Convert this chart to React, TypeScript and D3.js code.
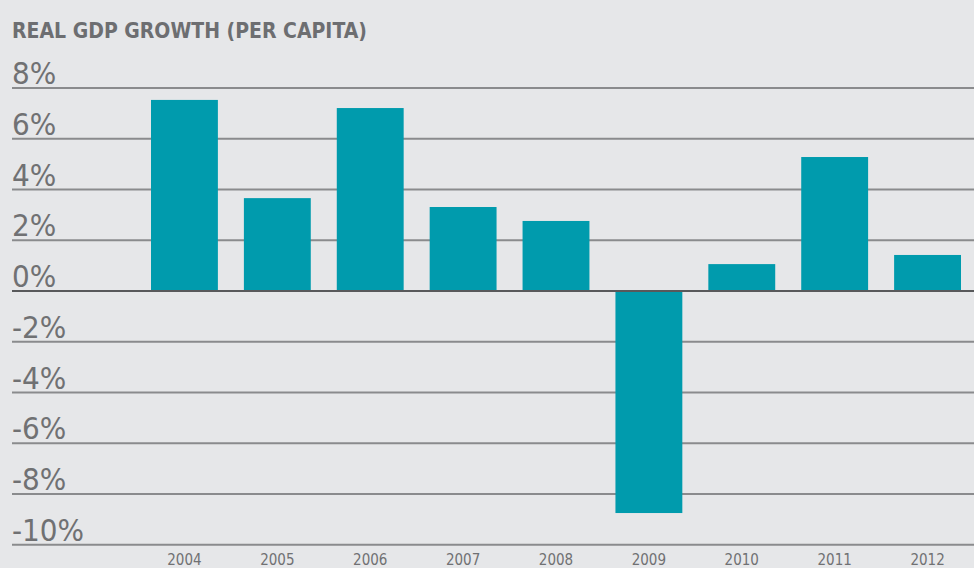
import { useEffect, useRef } from 'react';
import * as d3 from 'd3';

const years = ['2004', '2005', '2006', '2007', '2008', '2009', '2010', '2011', '2012'];
const growth = [7.53, 3.66, 7.21, 3.31, 2.76, -8.75, 1.06, 5.28, 1.42];
const yTicks = [8, 6, 4, 2, 0, -2, -4, -6, -8, -10];
const title = 'REAL GDP GROWTH (PER CAPITA)';

const App = () => {
    const svgRef = useRef<SVGSVGElement>(null);

    useEffect(() => {
        const width = 974;
        const height = 568;
        const font = '"Liberation Sans Narrow", "DejaVu Sans Condensed", "Roboto", sans-serif';

        const svg = d3.select(svgRef.current);
        svg.selectAll('*').remove();
        svg.attr('width', width).attr('height', height);

        svg.append('rect').attr('width', width).attr('height', height).attr('fill', '#e6e7e9');

        const x = d3.scaleBand<string>()
            .domain(years)
            .range([138, 974])
            .paddingInner(0.28)
            .paddingOuter(0.14);

        const y = d3.scaleLinear().domain([-10, 8]).range([544.75, 88]);

        // title
        svg.append('text')
            .attr('x', 12)
            .attr('y', 38)
            .attr('fill', '#6d6e71')
            .attr('font-family', font)
            .attr('font-size', 21)
            .attr('font-weight', 'bold')
            .text(title);

        // gridlines + tick labels
        const grid = svg.append('g');
        grid.selectAll('line')
            .data(yTicks)
            .enter()
            .append('line')
            .attr('x1', 12)
            .attr('x2', width)
            .attr('y1', d => y(d))
            .attr('y2', d => y(d))
            .attr('stroke', '#8a8b8d')
            .attr('stroke-width', 2);

        grid.selectAll('text')
            .data(yTicks)
            .enter()
            .append('text')
            .attr('x', 12)
            .attr('y', d => y(d) - 4)
            .attr('fill', '#707173')
            .attr('font-family', font)
            .attr('font-size', 31)
            .text(d => `${d}%`);

        // bars
        svg.append('g')
            .selectAll('rect')
            .data(years.map((yr, i) => ({ yr, v: growth[i] })))
            .enter()
            .append('rect')
            .attr('x', d => x(d.yr) ?? 0)
            .attr('width', x.bandwidth())
            .attr('y', d => y(Math.max(0, d.v)))
            .attr('height', d => Math.abs(y(d.v) - y(0)))
            .attr('fill', '#009bad');

        // zero line on top
        svg.append('line')
            .attr('x1', 12)
            .attr('x2', width)
            .attr('y1', y(0))
            .attr('y2', y(0))
            .attr('stroke', '#58595b')
            .attr('stroke-width', 2);

        // year labels
        svg.append('g')
            .selectAll('text')
            .data(years)
            .enter()
            .append('text')
            .attr('x', d => (x(d) ?? 0) + x.bandwidth() / 2)
            .attr('y', 565)
            .attr('text-anchor', 'middle')
            .attr('fill', '#707173')
            .attr('font-family', font)
            .attr('font-size', 15)
            .text(d => d);
    }, []);

    return <svg ref={svgRef} style={{ position: 'absolute', left: 0, top: 0 }} />;
};

export default App;
